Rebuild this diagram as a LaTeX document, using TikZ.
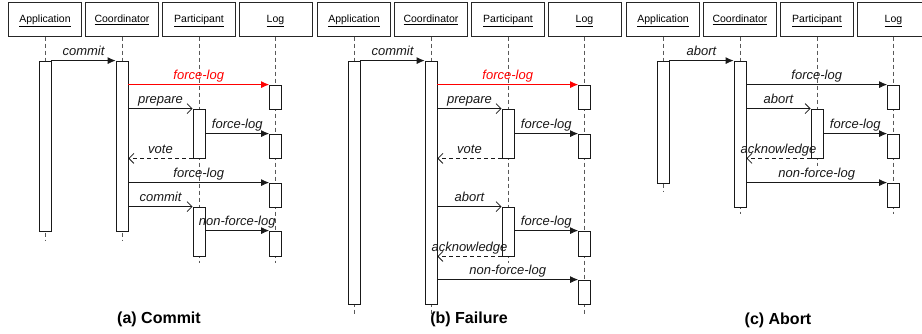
\documentclass[tikz,border=0pt]{standalone}
\usepackage{fontspec}
\setmainfont{Liberation Sans}
\usetikzlibrary{arrows.meta}
\tikzset{
  hdr/.style={draw=black!85, line width=1pt, minimum width=73pt, minimum height=34pt, inner sep=0pt, text height=7.6pt, text depth=0pt, font=\fontsize{10.5}{12}\selectfont},
  life/.style={draw=black!65, line width=0.7pt, dash pattern=on 4pt off 3pt},
  actbar/.style={draw=black!90, fill=white, line width=0.8pt, minimum width=12pt, inner sep=0pt},
  syncmsg/.style={draw=black!90, line width=0.8pt, -{Latex[length=8pt,width=7pt]}},
  redmsg/.style={draw=red, line width=0.8pt, -{Latex[length=8pt,width=7pt]}},
  asyncmsg/.style={draw=black!90, line width=0.8pt, -{Straight Barb[length=5pt,width=10pt]}},
  retmsg/.style={draw=black!90, line width=0.8pt, dash pattern=on 4pt off 3pt, -{Straight Barb[length=5pt,width=10pt]}},
  lbl/.style={font=\fontsize{13}{15}\selectfont\itshape, text=black!90, anchor=base, yshift=5pt, inner sep=0pt},
  captxt/.style={font=\fontsize{16}{18}\selectfont\bfseries}
}
% #1 prefix, #2 x offset, #3..#6 lifeline end y (App, Coord, Part, Log)
\newcommand\mkheads[6]{%
  \node[hdr] (#1hA) at (#2+45,19) {\underline{Application}};
  \node[hdr] (#1hC) at (#2+122,19) {\underline{Coordinator}};
  \node[hdr] (#1hP) at (#2+199,19) {\underline{Participant}};
  \node[hdr] (#1hL) at (#2+275.5,19) {\underline{Log}};
  \coordinate (#1eA) at (#2+45,#3);
  \coordinate (#1eC) at (#2+122,#4);
  \coordinate (#1eP) at (#2+199,#5);
  \coordinate (#1eL) at (#2+275.5,#6);
  \draw[life] (#1hA.south) -- (#1eA);
  \draw[life] (#1hC.south) -- (#1eC);
  \draw[life] (#1hP.south) -- (#1eP);
  \draw[life] (#1hL.south) -- (#1eL);
}
\begin{document}
\begin{tikzpicture}[x=1pt,y=-1pt]
\useasboundingbox[fill=white] (0,0) rectangle (922,333);

% ---------------- (a) Commit ----------------
\mkheads{a}{0}{241}{241}{263}{263}
\node[actbar, minimum height=170pt] (aA) at (45,146) {};
\node[actbar, minimum height=170pt] (aC) at (122,146) {};
\node[actbar, minimum height=24pt] (aL1) at (275.5,97) {};
\node[actbar, minimum height=49pt] (aP1) at (199,133.5) {};
\node[actbar, minimum height=24pt] (aL2) at (275.5,146) {};
\node[actbar, minimum height=24pt] (aL3) at (275.5,195) {};
\node[actbar, minimum height=49pt] (aP2) at (199,231.5) {};
\node[actbar, minimum height=25pt] (aL4) at (275.5,243.5) {};
\draw[syncmsg] (aA.north east) -- node[lbl]{commit} (aC.north west);
\draw[redmsg] (aC.east |- aL1.north) -- node[lbl, text=red]{force-log} (aL1.north west);
\draw[asyncmsg] (aC.east |- aP1.north) -- node[lbl]{prepare} (aP1.north west);
\draw[syncmsg] (aP1.east |- aL2.north) -- node[lbl]{force-log} (aL2.north west);
\draw[retmsg] (aP1.south west) -- node[lbl]{vote} (aC.east |- aP1.south);
\draw[syncmsg] (aC.east |- aL3.north) -- node[lbl]{force-log} (aL3.north west);
\draw[asyncmsg] (aC.east |- aP2.north) -- node[lbl]{commit} (aP2.north west);
\draw[syncmsg] (aP2.east |- aL4.north) -- node[lbl]{non-force-log} (aL4.north west);
\node[captxt] (capa) at (159,319) {(a) Commit};

% ---------------- (b) Failure ----------------
\begin{scope}
\mkheads{b}{309}{314}{314}{263}{314}
\node[actbar, minimum height=243pt] (bA) at (354,182.5) {};
\node[actbar, minimum height=243pt] (bC) at (431,182.5) {};
\node[actbar, minimum height=24pt] (bL1) at (584.5,97) {};
\node[actbar, minimum height=49pt] (bP1) at (508,133.5) {};
\node[actbar, minimum height=24pt] (bL2) at (584.5,146) {};
\node[actbar, minimum height=49pt] (bP2) at (508,231.5) {};
\node[actbar, minimum height=25pt] (bL3) at (584.5,243.5) {};
\node[actbar, minimum height=24pt] (bL4) at (584.5,292) {};
\draw[syncmsg] (bA.north east) -- node[lbl]{commit} (bC.north west);
\draw[redmsg] (bC.east |- bL1.north) -- node[lbl, text=red]{force-log} (bL1.north west);
\draw[asyncmsg] (bC.east |- bP1.north) -- node[lbl]{prepare} (bP1.north west);
\draw[syncmsg] (bP1.east |- bL2.north) -- node[lbl]{force-log} (bL2.north west);
\draw[retmsg] (bP1.south west) -- node[lbl]{vote} (bC.east |- bP1.south);
\draw[asyncmsg] (bC.east |- bP2.north) -- node[lbl]{abort} (bP2.north west);
\draw[syncmsg] (bP2.east |- bL3.north) -- node[lbl]{force-log} (bL3.north west);
\draw[retmsg] (bP2.south west) -- node[lbl]{acknowledge} (bC.east |- bP2.south);
\draw[syncmsg] (bC.east |- bL4.north) -- node[lbl]{non-force-log} (bL4.north west);
\node[captxt] (capb) at (469,319) {(b) Failure};
\end{scope}

% ---------------- (c) Abort ----------------
\begin{scope}
\mkheads{c}{618}{191}{214}{166}{214}
\node[actbar, minimum height=122pt] (cA) at (663,122) {};
\node[actbar, minimum height=146pt] (cC) at (740,134) {};
\node[actbar, minimum height=24pt] (cL1) at (893.5,97) {};
\node[actbar, minimum height=49pt] (cP1) at (817,133.5) {};
\node[actbar, minimum height=24pt] (cL2) at (893.5,146) {};
\node[actbar, minimum height=24pt] (cL3) at (893.5,195) {};
\draw[syncmsg] (cA.north east) -- node[lbl]{abort} (cC.north west);
\draw[syncmsg] (cC.east |- cL1.north) -- node[lbl]{force-log} (cL1.north west);
\draw[asyncmsg] (cC.east |- cP1.north) -- node[lbl]{abort} (cP1.north west);
\draw[syncmsg] (cP1.east |- cL2.north) -- node[lbl]{force-log} (cL2.north west);
\draw[retmsg] (cP1.south west) -- node[lbl]{acknowledge} (cC.east |- cP1.south);
\draw[syncmsg] (cC.east |- cL3.north) -- node[lbl]{non-force-log} (cL3.north west);
\node[captxt] (capc) at (778,320) {(c) Abort};
\end{scope}
\end{tikzpicture}
\end{document}
